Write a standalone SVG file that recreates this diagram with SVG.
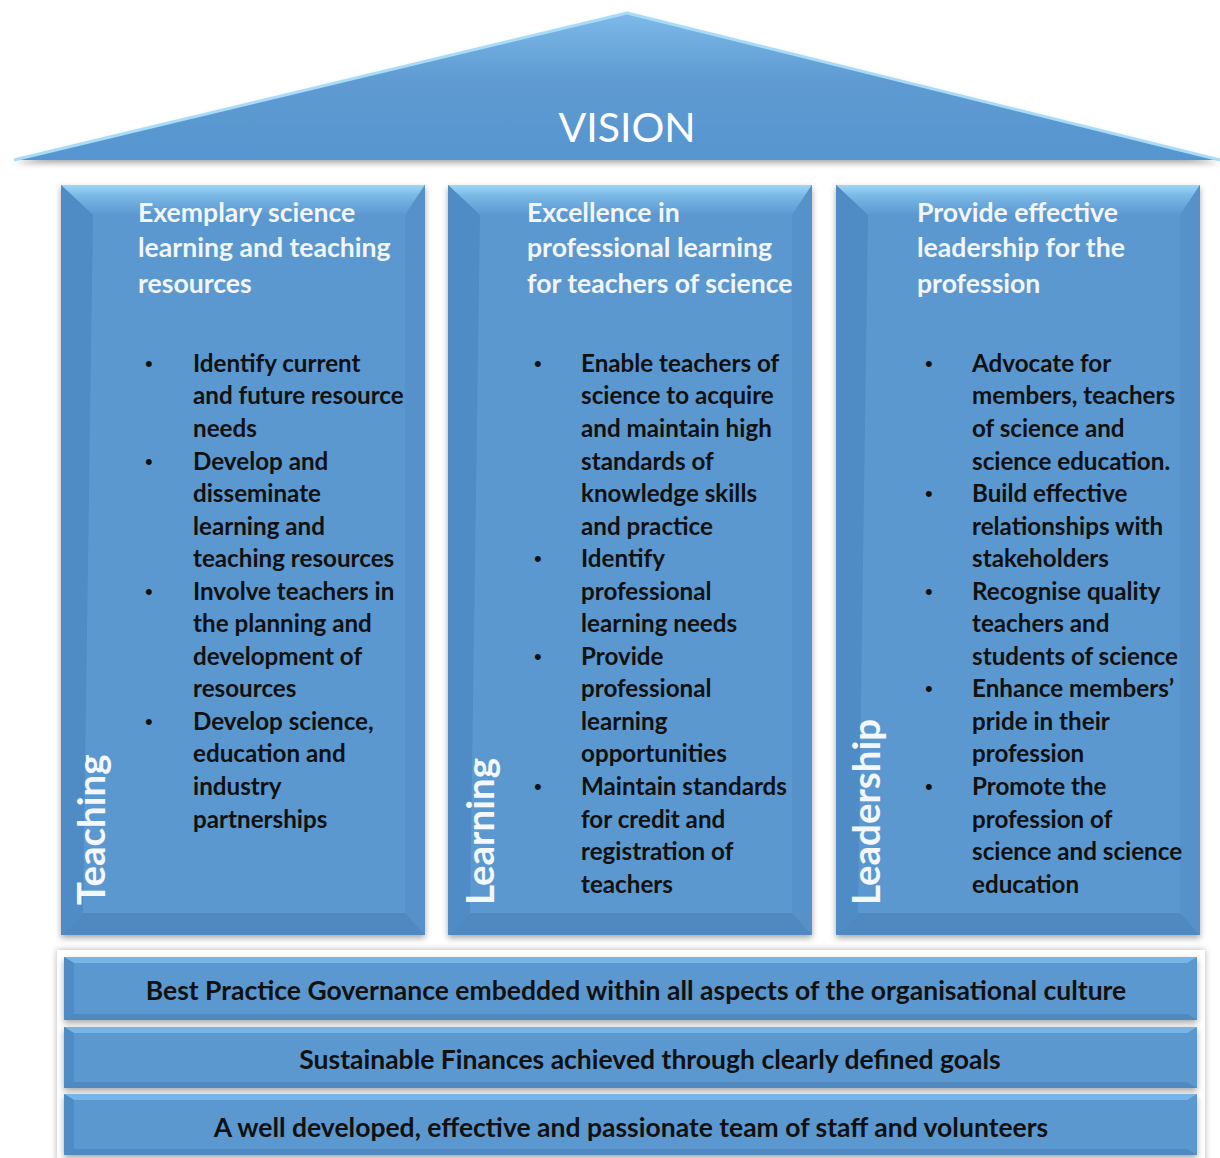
<svg xmlns="http://www.w3.org/2000/svg" width="1220" height="1158" viewBox="0 0 1220 1158">
<defs>
<style>
.hd{font-family:Lato,"Open Sans","Liberation Sans",sans-serif;font-weight:bold;font-size:26.6px;fill:#f2f6fb}
.bl{font-family:Lato,"Open Sans","Liberation Sans",sans-serif;font-weight:bold;font-size:24.2px;fill:#111}
.dot{font-family:"Liberation Sans",sans-serif;font-size:22px;fill:#111}
.vt{font-family:Lato,"Open Sans","Liberation Sans",sans-serif;font-weight:bold;font-size:38.5px;fill:#f4f8fc}
.bar{font-family:Lato,"Open Sans","Liberation Sans",sans-serif;font-weight:bold;font-size:26.5px;fill:#111;text-anchor:middle}
.base{fill:#5b98d0}
.bt{fill:url(#gTop)}
.bL{fill:#4f8bc4}
.bR{fill:#5791c9}
.bB{fill:#5088c0}
</style>
<linearGradient id="gTop" x1="0" y1="0" x2="0" y2="1">
<stop offset="0" stop-color="#9fd8f7"/>
<stop offset="0.35" stop-color="#7ab8e6"/>
<stop offset="1" stop-color="#5b98d0"/>
</linearGradient>
<linearGradient id="gRoof" x1="0" y1="0" x2="0" y2="1">
<stop offset="0" stop-color="#7db9e8"/>
<stop offset="0.45" stop-color="#5e9bd2"/>
<stop offset="1" stop-color="#5795cf"/>
</linearGradient>
<filter id="sh" x="-10%" y="-10%" width="120%" height="130%">
<feDropShadow dx="0" dy="3" stdDeviation="3" flood-color="#000" flood-opacity="0.35"/>
</filter>
<filter id="sh2" x="-5%" y="-5%" width="110%" height="110%">
<feDropShadow dx="0" dy="0" stdDeviation="3" flood-color="#000" flood-opacity="0.3"/>
</filter>
</defs>

<rect width="1220" height="1158" fill="#fff"/>

<g id="roof">
<polygon points="14,160 627,13 1220,160" fill="url(#gRoof)" filter="url(#sh)"/>
<polyline points="14,160 627,13 1220,160" fill="none" stroke="#a6dcf8" stroke-width="3"/>
<text x="627" y="142" text-anchor="middle" font-family="Lato,'Open Sans','Liberation Sans',sans-serif" font-size="41" fill="#fff">VISION</text>
</g>

<g id="col-teaching">
<g filter="url(#sh)">
<rect x="61" y="185" width="364" height="750" class="base"/>
</g>
<polygon points="61,185 425,185 405,215 93,215" class="bt"/>
<polygon points="61,185 93,215 83,913 61,935" class="bL"/>
<polygon points="425,185 405,215 405,913 425,935" class="bR"/>
<polygon points="61,935 83,913 405,913 425,935" class="bB"/>
<rect x="93" y="215" width="312" height="698" class="base"/>
<text class="hd"><tspan x="138" y="222">Exemplary science</tspan><tspan x="138" y="257">learning and teaching</tspan><tspan x="138" y="293">resources</tspan></text>
<text class="dot" x="145" y="371">•</text><text class="dot" x="145" y="469">•</text><text class="dot" x="145" y="599">•</text><text class="dot" x="145" y="729">•</text>
<g class="bl">
<text x="193" y="372">Identify current</text>
<text x="193" y="404">and future resource</text>
<text x="193" y="437">needs</text>
<text x="193" y="470">Develop and</text>
<text x="193" y="502">disseminate</text>
<text x="193" y="535">learning and</text>
<text x="193" y="567">teaching resources</text>
<text x="193" y="600">Involve teachers in</text>
<text x="193" y="632">the planning and</text>
<text x="193" y="665">development of</text>
<text x="193" y="697">resources</text>
<text x="193" y="730">Develop science,</text>
<text x="193" y="762">education and</text>
<text x="193" y="795">industry</text>
<text x="193" y="828">partnerships</text>
</g>
<text class="vt" transform="translate(105,905) rotate(-90)">Teaching</text>
</g>

<g id="col-learning">
<g filter="url(#sh)">
<rect x="448" y="185" width="364" height="750" class="base"/>
</g>
<polygon points="448,185 812,185 792,215 480,215" class="bt"/>
<polygon points="448,185 480,215 470,913 448,935" class="bL"/>
<polygon points="812,185 792,215 792,913 812,935" class="bR"/>
<polygon points="448,935 470,913 792,913 812,935" class="bB"/>
<rect x="480" y="215" width="312" height="698" class="base"/>
<text class="hd"><tspan x="527" y="222">Excellence in</tspan><tspan x="527" y="257">professional learning</tspan><tspan x="527" y="293">for teachers of science</tspan></text>
<text class="dot" x="534" y="371">•</text><text class="dot" x="534" y="566">•</text><text class="dot" x="534" y="664">•</text><text class="dot" x="534" y="794">•</text>
<g class="bl">
<text x="581" y="372">Enable teachers of</text>
<text x="581" y="404">science to acquire</text>
<text x="581" y="437">and maintain high</text>
<text x="581" y="470">standards of</text>
<text x="581" y="502">knowledge skills</text>
<text x="581" y="535">and practice</text>
<text x="581" y="567">Identify</text>
<text x="581" y="600">professional</text>
<text x="581" y="632">learning needs</text>
<text x="581" y="665">Provide</text>
<text x="581" y="697">professional</text>
<text x="581" y="730">learning</text>
<text x="581" y="762">opportunities</text>
<text x="581" y="795">Maintain standards</text>
<text x="581" y="828">for credit and</text>
<text x="581" y="860">registration of</text>
<text x="581" y="893">teachers</text>
</g>
<text class="vt" transform="translate(494,905) rotate(-90)">Learning</text>
</g>

<g id="col-leadership">
<g filter="url(#sh)">
<rect x="836" y="185" width="364" height="750" class="base"/>
</g>
<polygon points="836,185 1200,185 1180,215 868,215" class="bt"/>
<polygon points="836,185 868,215 858,913 836,935" class="bL"/>
<polygon points="1200,185 1180,215 1180,913 1200,935" class="bR"/>
<polygon points="836,935 858,913 1180,913 1200,935" class="bB"/>
<rect x="868" y="215" width="312" height="698" class="base"/>
<text class="hd"><tspan x="917" y="222">Provide effective</tspan><tspan x="917" y="257">leadership for the</tspan><tspan x="917" y="293">profession</tspan></text>
<text class="dot" x="925" y="371">•</text><text class="dot" x="925" y="501">•</text><text class="dot" x="925" y="599">•</text><text class="dot" x="925" y="696">•</text><text class="dot" x="925" y="794">•</text>
<g class="bl">
<text x="972" y="372">Advocate for</text>
<text x="972" y="404">members, teachers</text>
<text x="972" y="437">of science and</text>
<text x="972" y="470">science education.</text>
<text x="972" y="502">Build effective</text>
<text x="972" y="535">relationships with</text>
<text x="972" y="567">stakeholders</text>
<text x="972" y="600">Recognise quality</text>
<text x="972" y="632">teachers and</text>
<text x="972" y="665">students of science</text>
<text x="972" y="697">Enhance members’</text>
<text x="972" y="730">pride in their</text>
<text x="972" y="762">profession</text>
<text x="972" y="795">Promote the</text>
<text x="972" y="828">profession of</text>
<text x="972" y="860">science and science</text>
<text x="972" y="893">education</text>
</g>
<text class="vt" transform="translate(880,905) rotate(-90)">Leadership</text>
</g>

<g id="foundation">
<rect x="57" y="950" width="1148" height="215" fill="#fff" filter="url(#sh2)"/>
</g>

<g id="bar-governance">
<rect x="64" y="957" width="1133" height="63" class="base" filter="url(#sh)"/>
<polygon points="64,957 1197,957 1187,963 74,963" fill="#78b5e6"/>
<polygon points="64,957 74,963 74,1014 64,1020" class="bL"/>
<polygon points="64,1020 74,1014 1187,1014 1197,1020" class="bB"/>
<text class="bar" x="636" y="1000">Best Practice Governance embedded within all aspects of the organisational culture</text>
</g>

<g id="bar-finances">
<rect x="64" y="1027" width="1133" height="61" class="base" filter="url(#sh)"/>
<polygon points="64,1027 1197,1027 1187,1033 74,1033" fill="#78b5e6"/>
<polygon points="64,1027 74,1033 74,1082 64,1088" class="bL"/>
<polygon points="64,1088 74,1082 1187,1082 1197,1088" class="bB"/>
<text class="bar" x="650" y="1069">Sustainable Finances achieved through clearly defined goals</text>
</g>

<g id="bar-team">
<rect x="64" y="1094" width="1133" height="61" class="base" filter="url(#sh)"/>
<polygon points="64,1094 1197,1094 1187,1100 74,1100" fill="#78b5e6"/>
<polygon points="64,1094 74,1100 74,1149 64,1155" class="bL"/>
<polygon points="64,1155 74,1149 1187,1149 1197,1155" class="bB"/>
<text class="bar" x="631" y="1137">A well developed, effective and passionate team of staff and volunteers</text>
</g>
</svg>
